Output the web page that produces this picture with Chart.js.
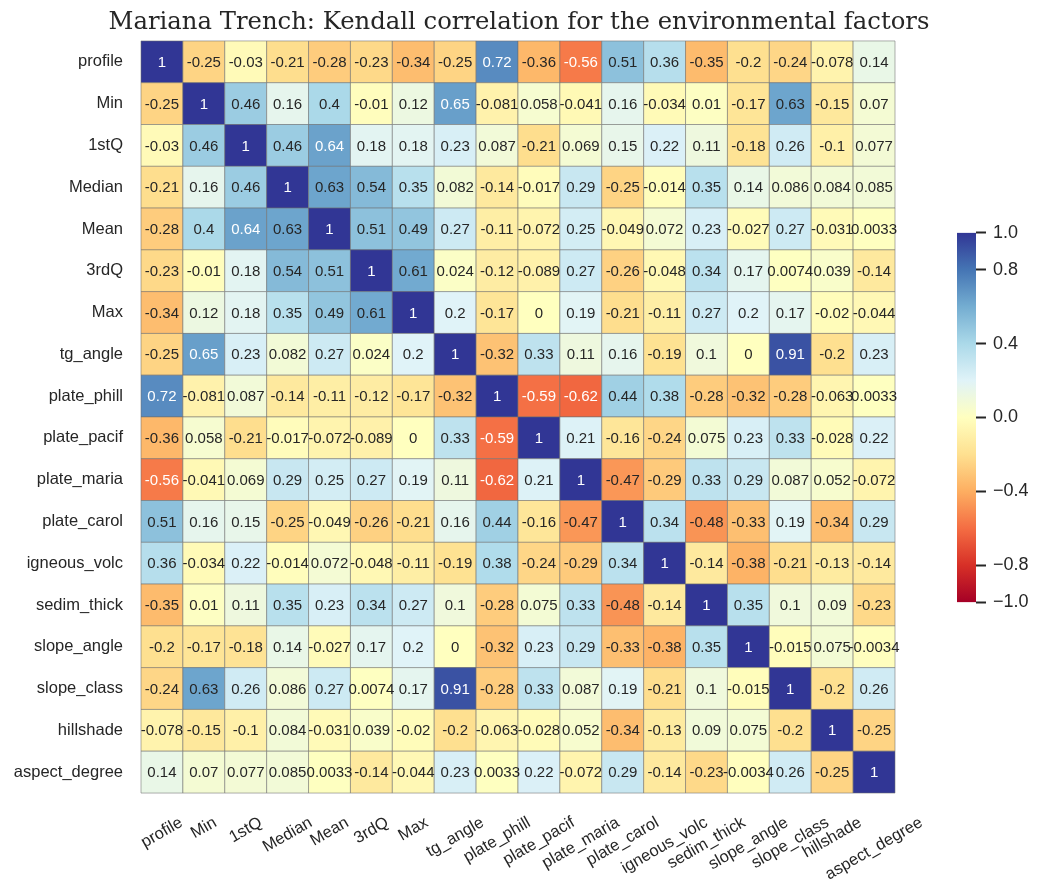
<!DOCTYPE html>
<html>
<head>
<meta charset="utf-8">
<script src="https://cdn.jsdelivr.net/npm/chart.js@4.4.0/dist/chart.umd.min.js"></script>
<style>
html, body { margin: 0; padding: 0; background: #fff; }
#wrap { position: relative; width: 1038px; height: 880px; }
#heat { position: absolute; left: 0; top: 0; }
#barra { position: absolute; left: 940px; top: 215px; }
</style>
</head>
<body>
<div id="wrap">
  <canvas id="heat" width="1038" height="880"></canvas>
  <canvas id="barra" width="98" height="405"></canvas>
</div>
<script>
const titulo = 'Mariana Trench: Kendall correlation for the environmental factors';

const factores = ['profile', 'Min', '1stQ', 'Median', 'Mean', '3rdQ', 'Max', 'tg_angle',
  'plate_phill', 'plate_pacif', 'plate_maria', 'plate_carol', 'igneous_volc',
  'sedim_thick', 'slope_angle', 'slope_class', 'hillshade', 'aspect_degree'];

// una fila por factor, en el mismo orden
const profile      = [1, -0.25, -0.03, -0.21, -0.28, -0.23, -0.34, -0.25, 0.72, -0.36, -0.56, 0.51, 0.36, -0.35, -0.2, -0.24, -0.078, 0.14];
const min          = [-0.25, 1, 0.46, 0.16, 0.4, -0.01, 0.12, 0.65, -0.081, 0.058, -0.041, 0.16, -0.034, 0.01, -0.17, 0.63, -0.15, 0.07];
const q1           = [-0.03, 0.46, 1, 0.46, 0.64, 0.18, 0.18, 0.23, 0.087, -0.21, 0.069, 0.15, 0.22, 0.11, -0.18, 0.26, -0.1, 0.077];
const median       = [-0.21, 0.16, 0.46, 1, 0.63, 0.54, 0.35, 0.082, -0.14, -0.017, 0.29, -0.25, -0.014, 0.35, 0.14, 0.086, 0.084, 0.085];
const mean         = [-0.28, 0.4, 0.64, 0.63, 1, 0.51, 0.49, 0.27, -0.11, -0.072, 0.25, -0.049, 0.072, 0.23, -0.027, 0.27, -0.031, 0.0033];
const q3           = [-0.23, -0.01, 0.18, 0.54, 0.51, 1, 0.61, 0.024, -0.12, -0.089, 0.27, -0.26, -0.048, 0.34, 0.17, 0.0074, 0.039, -0.14];
const max          = [-0.34, 0.12, 0.18, 0.35, 0.49, 0.61, 1, 0.2, -0.17, 0, 0.19, -0.21, -0.11, 0.27, 0.2, 0.17, -0.02, -0.044];
const tgAngle      = [-0.25, 0.65, 0.23, 0.082, 0.27, 0.024, 0.2, 1, -0.32, 0.33, 0.11, 0.16, -0.19, 0.1, 0, 0.91, -0.2, 0.23];
const platePhill   = [0.72, -0.081, 0.087, -0.14, -0.11, -0.12, -0.17, -0.32, 1, -0.59, -0.62, 0.44, 0.38, -0.28, -0.32, -0.28, -0.063, 0.0033];
const platePacif   = [-0.36, 0.058, -0.21, -0.017, -0.072, -0.089, 0, 0.33, -0.59, 1, 0.21, -0.16, -0.24, 0.075, 0.23, 0.33, -0.028, 0.22];
const plateMaria   = [-0.56, -0.041, 0.069, 0.29, 0.25, 0.27, 0.19, 0.11, -0.62, 0.21, 1, -0.47, -0.29, 0.33, 0.29, 0.087, 0.052, -0.072];
const plateCarol   = [0.51, 0.16, 0.15, -0.25, -0.049, -0.26, -0.21, 0.16, 0.44, -0.16, -0.47, 1, 0.34, -0.48, -0.33, 0.19, -0.34, 0.29];
const igneousVolc  = [0.36, -0.034, 0.22, -0.014, 0.072, -0.048, -0.11, -0.19, 0.38, -0.24, -0.29, 0.34, 1, -0.14, -0.38, -0.21, -0.13, -0.14];
const sedimThick   = [-0.35, 0.01, 0.11, 0.35, 0.23, 0.34, 0.27, 0.1, -0.28, 0.075, 0.33, -0.48, -0.14, 1, 0.35, 0.1, 0.09, -0.23];
const slopeAngle   = [-0.2, -0.17, -0.18, 0.14, -0.027, 0.17, 0.2, 0, -0.32, 0.23, 0.29, -0.33, -0.38, 0.35, 1, -0.015, 0.075, -0.0034];
const slopeClass   = [-0.24, 0.63, 0.26, 0.086, 0.27, 0.0074, 0.17, 0.91, -0.28, 0.33, 0.087, 0.19, -0.21, 0.1, -0.015, 1, -0.2, 0.26];
const hillshade    = [-0.078, -0.15, -0.1, 0.084, -0.031, 0.039, -0.02, -0.2, -0.063, -0.028, 0.052, -0.34, -0.13, 0.09, 0.075, -0.2, 1, -0.25];
const aspectDegree = [0.14, 0.07, 0.077, 0.085, 0.0033, -0.14, -0.044, 0.23, 0.0033, 0.22, -0.072, 0.29, -0.14, -0.23, -0.0034, 0.26, -0.25, 1];

const filas = [profile, min, q1, median, mean, q3, max, tgAngle, platePhill, platePacif,
  plateMaria, plateCarol, igneousVolc, sedimThick, slopeAngle, slopeClass, hillshade, aspectDegree];

const ticksBarra = [1.0, 0.8, 0.4, 0.0, -0.4, -0.8, -1.0];

// RdYlBu
const paleta = ['#a50026', '#d73027', '#f46d43', '#fdae61', '#fee090', '#ffffbf',
  '#e0f3f8', '#abd9e9', '#74add1', '#4575b4', '#313695'];

function hexRgb(h) {
  return [parseInt(h.slice(1, 3), 16), parseInt(h.slice(3, 5), 16), parseInt(h.slice(5, 7), 16)];
}
function colorDe(v) {
  let t = (v + 1) / 2 * (paleta.length - 1);
  t = Math.max(0, Math.min(paleta.length - 1, t));
  const i = Math.min(Math.floor(t), paleta.length - 2);
  const f = t - i;
  const a = hexRgb(paleta[i]), b = hexRgb(paleta[i + 1]);
  const c = a.map((x, k) => Math.round(x + (b[k] - x) * f));
  return 'rgb(' + c.join(',') + ')';
}

const celdas = [];
filas.forEach((fila, i) => {
  fila.forEach((v, j) => celdas.push({ x: factores[j], y: factores[i], v: v }));
});

const texto = '#262626';

const dibujoExtra = {
  id: 'dibujoExtra',
  afterDatasetsDraw(chart) {
    const ctx = chart.ctx;
    const meta = chart.getDatasetMeta(0);
    ctx.save();
    ctx.font = '15px "Liberation Sans", Arial, sans-serif';
    ctx.textAlign = 'center';
    ctx.textBaseline = 'middle';
    meta.data.forEach((pt, k) => {
      const v = celdas[k].v;
      ctx.fillStyle = (v >= 0.64 || v <= -0.55) ? '#ffffff' : texto;
      ctx.fillText(String(v), pt.x, pt.y + 1);
    });
    ctx.restore();
  },
  afterDraw(chart) {
    const ctx = chart.ctx;
    const xs = chart.scales.x;
    const area = chart.chartArea;
    const ang = 30 * Math.PI / 180;
    ctx.save();
    ctx.fillStyle = texto;
    ctx.font = '16.5px "Liberation Sans", Arial, sans-serif';
    ctx.textAlign = 'center';
    ctx.textBaseline = 'middle';
    factores.forEach((lab, j) => {
      const px = xs.getPixelForValue(j);
      const w = ctx.measureText(lab).width;
      const h = 17;
      const alto = w * Math.sin(ang) + h * Math.cos(ang);
      ctx.save();
      ctx.translate(px, area.bottom + 21 + alto / 2);
      ctx.rotate(-ang);
      ctx.fillText(lab, 0, 0);
      ctx.restore();
    });
    ctx.font = '24.3px "DejaVu Serif", serif';
    ctx.textBaseline = 'alphabetic';
    ctx.fillText(titulo, chart.width / 2, 29);
    ctx.restore();
  }
};

new Chart(document.getElementById('heat'), {
  type: 'scatter',
  data: {
    datasets: [{
      data: celdas,
      pointStyle: 'rect',
      pointRadius: (c) => {
        const a = c.chart.chartArea;
        if (!a) return 10;
        return (a.right - a.left) / factores.length / Math.SQRT2;
      },
      pointHoverRadius: (c) => {
        const a = c.chart.chartArea;
        if (!a) return 10;
        return (a.right - a.left) / factores.length / Math.SQRT2;
      },
      backgroundColor: (c) => c.raw ? colorDe(c.raw.v) : '#fff',
      borderColor: 'rgba(110,110,110,0.55)',
      borderWidth: 1
    }]
  },
  options: {
    responsive: false,
    animation: false,
    events: [],
    layout: { padding: { top: 41, left: 0, right: 143, bottom: 87 } },
    plugins: { legend: { display: false }, tooltip: { enabled: false } },
    scales: {
      x: {
        type: 'category',
        labels: factores,
        offset: true,
        display: false
      },
      y: {
        type: 'category',
        labels: factores,
        offset: true,
        grid: { display: false, drawTicks: false },
        border: { display: false },
        afterFit: (s) => { s.width = 141; },
        ticks: {
          padding: 18,
          color: texto,
          autoSkip: false,
          font: { family: '"Liberation Sans", Arial, sans-serif', size: 16.5 }
        }
      }
    }
  },
  plugins: [dibujoExtra]
});

new Chart(document.getElementById('barra'), {
  type: 'bar',
  data: {
    labels: ['r'],
    datasets: [{
      data: [[-1, 1]],
      barPercentage: 1,
      categoryPercentage: 1,
      borderWidth: 0,
      backgroundColor: (c) => {
        const ch = c.chart;
        if (!ch.chartArea || !ch.scales.y) return paleta[5];
        const y0 = ch.scales.y.getPixelForValue(-1);
        const y1 = ch.scales.y.getPixelForValue(1);
        const g = ch.ctx.createLinearGradient(0, y0, 0, y1);
        paleta.forEach((col, i) => g.addColorStop(i / (paleta.length - 1), col));
        return g;
      }
    }]
  },
  options: {
    responsive: false,
    animation: false,
    events: [],
    layout: { padding: { top: 14, bottom: 14, left: 17, right: 0 } },
    plugins: { legend: { display: false }, tooltip: { enabled: false } },
    scales: {
      x: { display: false },
      y: {
        position: 'right',
        min: -1,
        max: 1,
        afterBuildTicks: (ax) => { ax.ticks = ticksBarra.map(v => ({ value: v })); },
        afterFit: (s) => { s.width = 62; },
        grid: { drawOnChartArea: false, drawTicks: true, tickLength: 10, tickColor: texto, tickWidth: 2 },
        border: { display: false },
        ticks: {
          padding: 7,
          color: texto,
          font: { family: '"Liberation Sans", Arial, sans-serif', size: 18 },
          callback: (v) => (v < 0 ? '\u2212' : '') + Math.abs(v).toFixed(1)
        }
      }
    }
  }
});
</script>
</body>
</html>
